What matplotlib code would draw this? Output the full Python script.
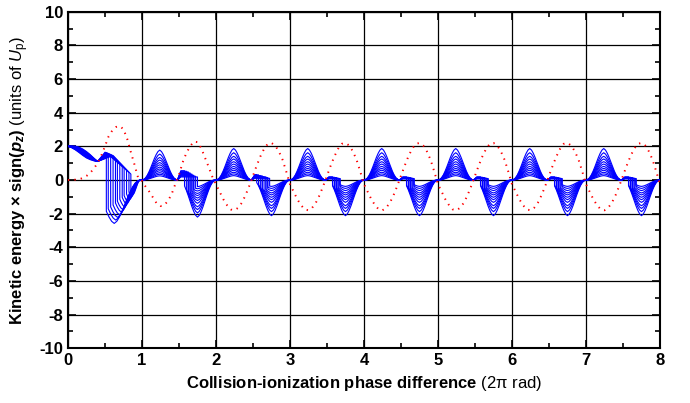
import numpy as np
import matplotlib
matplotlib.use("Agg")
import matplotlib.pyplot as plt

plt.rcParams['font.family'] = ['Liberation Sans', 'DejaVu Sans']
plt.rcParams['axes.unicode_minus'] = False
plt.rcParams['mathtext.fontset'] = 'custom'
plt.rcParams['mathtext.rm'] = 'Liberation Sans'
plt.rcParams['mathtext.it'] = 'Liberation Sans:italic'
plt.rcParams['mathtext.bf'] = 'Liberation Sans:bold'
plt.rcParams['mathtext.bfit'] = 'Liberation Sans:bold:italic'

# half-cycle lobe profile (fraction of peak), 21 samples
lobe = np.array([0.0, 0.02, 0.07, 0.16, 0.28, 0.42, 0.57, 0.72, 0.85, 0.95, 1.0,
                 0.95, 0.85, 0.72, 0.57, 0.42, 0.28, 0.16, 0.07, 0.02, 0.0])

# first cycle: common descent from 2 Up
start_x = [0.0, 0.05, 0.1, 0.15, 0.2, 0.25, 0.3, 0.35, 0.4]
start_y = np.array([2.0, 1.97, 1.9, 1.79, 1.65, 1.5, 1.36, 1.22, 1.1])
start_spread = np.array([0.0, 0.05, 0.11, 0.16, 0.19, 0.19, 0.15, 0.08, 0.0])
fan = [-1.0, -0.82, -0.64, -0.45, -0.27, -0.09, 0.09, 0.27, 0.45, 0.64, 0.82, 1.0]

hook_peak_x = [0.50, 0.51, 0.52, 0.53, 0.54, 0.55, 0.56, 0.57, 0.58, 0.59, 0.60, 0.61]
hook_peak_y = [1.65, 1.64, 1.62, 1.61, 1.59, 1.57, 1.55, 1.53, 1.51, 1.49, 1.47, 1.45]
first_top = [1.6, 1.5, 1.38, 1.26, 1.14, 1.04, 0.92, 0.79, 0.69, 0.57, 0.44, 0.35]
first_lobe_start = [0.27, 0.31, 0.36, 0.41, 0.46, 0.50, 0.55, 0.60, 0.64, 0.69, 0.74, 0.78]
first_depth = [2.58, 2.38, 2.22, 2.06, 1.9, 1.75, 1.59, 1.43, 1.29, 1.15, 0.99, 0.85]
first_drop = 7

# later cycles
pos_height = [1.87, 1.62, 1.41, 1.25, 1.09, 0.95, 0.81, 0.69, 0.58, 0.46, 0.36, 0.26]
neg_depth = [2.12, 1.88, 1.69, 1.53, 1.33, 1.17, 1.03, 0.89, 0.77, 0.63, 0.50, 0.38]
pos_scale = [0.95, 1.0, 1.0, 1.0, 1.0, 1.0, 1.0]
neg_scale = [1.04, 1.0, 1.0, 1.0, 1.0, 1.0, 1.0]

hook_c1 = [0.55, 0.52, 0.48, 0.45, 0.42, 0.38, 0.35, 0.32, 0.28, 0.25, 0.22, 0.18]
drop_c1 = [3, 4, 5, 5, 6, 6, 7, 7, 8, 8, 9, 10]
hook_c2 = [0.32, 0.3, 0.28, 0.26, 0.24, 0.22, 0.2, 0.18, 0.16, 0.14, 0.12, 0.1]
drop_c2 = [2, 3, 3, 4, 5, 5, 6, 7, 7, 8, 8, 9]
hook_rest = [0.18, 0.17, 0.16, 0.15, 0.14, 0.13, 0.12, 0.11, 0.1, 0.09, 0.08, 0.07]
drop_rest = [3, 3, 4, 4, 5, 5, 5, 6, 6, 7, 7, 7]

# red dotted reference curve, step 0.05
red_first = [0.0, 0.0, 0.02, 0.04, 0.12, 0.24, 0.42, 0.68, 1.0, 1.45,
             2.0, 2.6, 2.95, 3.15, 3.2, 3.02, 2.45, 1.65, 0.9, 0.1,
             -0.05, -0.4, -0.7, -1.05, -1.4, -1.55, -1.5, -1.25, -0.85, -0.25,
             0.3, 1.05, 1.6, 2.0, 2.28, 2.25, 1.9, 1.35, 0.79, 0.2]
red_cycle = [-0.25, -0.7, -1.15, -1.5, -1.75, -1.8, -1.65, -1.35, -0.9, -0.35,
             0.25, 0.85, 1.4, 1.85, 2.15, 2.2, 2.05, 1.7, 1.2, 0.5]

frac = np.arange(21) / 20

fig = plt.figure(figsize=(6.9, 4.03), dpi=100)
ax = fig.add_axes([0.0985, 0.1357, 0.858, 0.8353])

for k in range(12):
    xs = list(start_x)
    ys = list(start_y + fan[k] * start_spread)
    xs.append(hook_peak_x[k]); ys.append(hook_peak_y[k])
    a = first_lobe_start[k]
    lx = a + frac * (0.98 - a)
    ly = -first_depth[k] * lobe
    j = first_drop
    xs += [lx[j], lx[j]]; ys += [first_top[k], ly[j]]
    xs += list(lx[j + 1:]); ys += list(ly[j + 1:])
    for c in range(1, 8):
        px = c + frac * 0.48
        xs += list(px); ys += list(pos_height[k] * pos_scale[c - 1] * lobe)
        if c == 1:
            hooks, drops = hook_c1, drop_c1
        elif c == 2:
            hooks, drops = hook_c2, drop_c2
        else:
            hooks, drops = hook_rest, drop_rest
        nx = c + 0.5 + frac * 0.5
        ny = -neg_depth[k] * neg_scale[c - 1] * lobe
        j = drops[k]
        xs += [nx[1], nx[j], nx[j]]; ys += [hooks[k], hooks[k], ny[j]]
        xs += list(nx[j + 1:]); ys += list(ny[j + 1:])
    ax.plot(xs, ys, color='#0000ff', lw=0.8, zorder=3)

red_y = red_first + red_cycle * 6 + [red_cycle[0]]
red_x = np.arange(len(red_y)) * 0.05
ax.plot(red_x, red_y, color='red', lw=1.4, linestyle=(0, (0.7, 2.6)), zorder=4)

ax.set_xlim(0, 8)
ax.set_ylim(-10, 10)
ax.set_xticks(range(9))
ax.set_yticks(range(-10, 11, 2))
ax.set_xticks(np.arange(0.5, 8, 1), minor=True)
ax.set_yticks(range(-9, 10, 2), minor=True)
ax.grid(True, which='major', color='black', lw=0.9)
ax.set_axisbelow(True)
ax.tick_params(which='both', direction='in', top=True, right=True, width=1.2,
               labelsize=12)
ax.tick_params(which='major', length=6)
ax.tick_params(which='minor', length=3.5)
for s in ax.spines.values():
    s.set_linewidth(1.5)
plt.setp(ax.get_xticklabels(), fontweight='bold')
plt.setp(ax.get_yticklabels(), fontweight='bold')

ax.set_xlabel(r"Collision-ionization phase difference $\mathrm{(2π\ rad)}$",
              fontsize=12, fontweight='bold', labelpad=4)
ax.set_ylabel(r"Kinetic energy × sign($\mathbfit{p}_\mathbfit{z}$) "
              r"$\mathrm{(units\ of\ }\mathit{U}_\mathrm{p}\mathrm{)}$",
              fontsize=12, fontweight='bold', labelpad=6)

fig.savefig("out.png", dpi=100)
